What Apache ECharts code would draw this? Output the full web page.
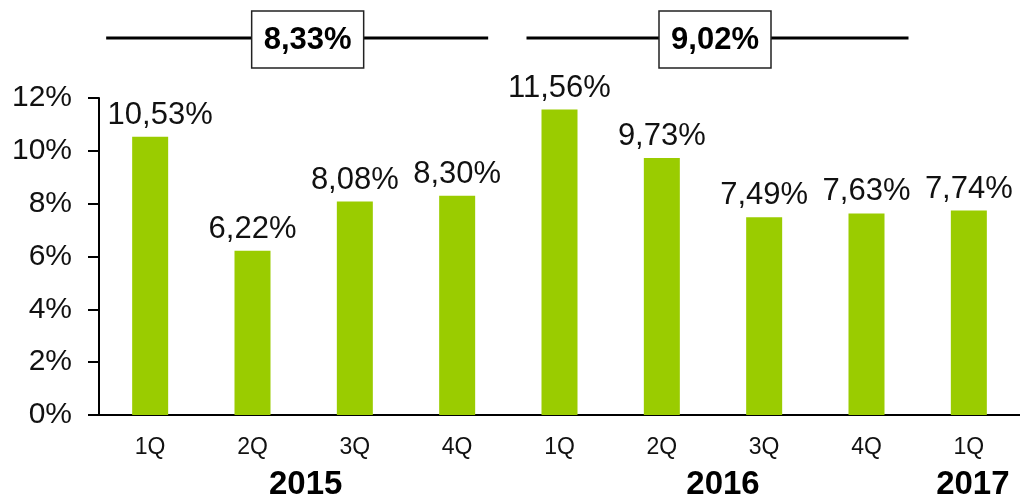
<!DOCTYPE html>
<html>
<head>
<meta charset="utf-8">
<script src="https://cdn.jsdelivr.net/npm/echarts@6/dist/echarts.min.js"></script>
<style>
  html, body { margin: 0; padding: 0; background: #fff; }
  #chart { width: 1020px; height: 500px; }
</style>
</head>
<body>
<div id="chart"></div>
<script>
// Quarterly rates, in percent
const quarters = ['1Q', '2Q', '3Q', '4Q', '1Q', '2Q', '3Q', '4Q', '1Q'];
const rates = [10.53, 6.22, 8.08, 8.30, 11.56, 9.73, 7.49, 7.63, 7.74];

// Years under the quarter labels, with the quarter indices they sit under
const years = ['2015', '2016', '2017'];
const yearSpan = [[0, 3], [4, 7], [8, 8]];

// Yearly averages shown in the boxes above each full year
const yearAverages = [8.33, 9.02];
const averageSpan = [[0, 3], [4, 7]];

const yTicks = [0, 2, 4, 6, 8, 10, 12];

const FONT = '"Liberation Sans", Arial, sans-serif';
const fmt = v => v.toFixed(2).replace('.', ',') + '%';

const chart = echarts.init(document.getElementById('chart'), null, { renderer: 'canvas' });

chart.setOption({
  animation: false,
  backgroundColor: '#ffffff',
  textStyle: { fontFamily: FONT },
  grid: { left: 99, right: 0, top: 98, bottom: 85, containLabel: false },
  xAxis: {
    type: 'category',
    data: quarters,
    axisLine: { lineStyle: { color: '#000', width: 2 } },
    axisTick: { show: false },
    axisLabel: { color: '#111', fontSize: 23, fontFamily: FONT, margin: 21, interval: 0 }
  },
  yAxis: {
    type: 'value',
    min: yTicks[0],
    max: yTicks[yTicks.length - 1],
    interval: 2,
    splitLine: { show: false },
    axisLine: { show: true, lineStyle: { color: '#000', width: 2 } },
    axisTick: { show: true, length: 11, lineStyle: { color: '#000', width: 2 } },
    axisLabel: { color: '#111', fontSize: 30, fontFamily: FONT, margin: 27, formatter: '{value}%' }
  },
  series: [{
    type: 'bar',
    barWidth: 36,
    itemStyle: { color: '#9acc00' },
    label: {
      show: true,
      position: 'top',
      distance: 6,
      color: '#111',
      fontSize: 31,
      fontFamily: FONT,
      formatter: p => fmt(p.value)
    },
    data: rates.map((v, i) => i === 0 ? { value: v, label: { offset: [10, 0] } } : v)
  }]
});

// Year captions and average boxes, placed from the category positions
function catX(i) { return chart.convertToPixel({ xAxisIndex: 0 }, i); }

const graphics = [];
const yearNudge = [2, 10, 4];
years.forEach((y, k) => {
  const [a, b] = yearSpan[k];
  const cx = (catX(a) + catX(b)) / 2 + yearNudge[k];
  graphics.push({
    type: 'text',
    x: cx, y: 485,
    style: {
      text: y, fill: '#000', font: 'bold 33px ' + FONT,
      align: 'center', verticalAlign: 'middle'
    }
  });
});

const lineEnds = [[-44, 31], [-33, 42]];
const boxNudge = [4, 2];
yearAverages.forEach((v, k) => {
  const [a, b] = averageSpan[k];
  const x1 = catX(a) + lineEnds[k][0];
  const x2 = catX(b) + lineEnds[k][1];
  const cx = (catX(a) + catX(b)) / 2 + boxNudge[k];
  graphics.push({
    type: 'line',
    shape: { x1: x1, y1: 38, x2: x2, y2: 38 },
    style: { stroke: '#000', lineWidth: 3 }
  });
  graphics.push({
    type: 'rect',
    shape: { x: cx - 56, y: 11, width: 112, height: 57 },
    style: { fill: '#fff', stroke: '#222', lineWidth: 1.5 }
  });
  graphics.push({
    type: 'text',
    x: cx, y: 40,
    style: {
      text: fmt(v), fill: '#000', font: 'bold 31px ' + FONT,
      align: 'center', verticalAlign: 'middle'
    }
  });
});

chart.setOption({ graphic: graphics });
</script>
</body>
</html>
